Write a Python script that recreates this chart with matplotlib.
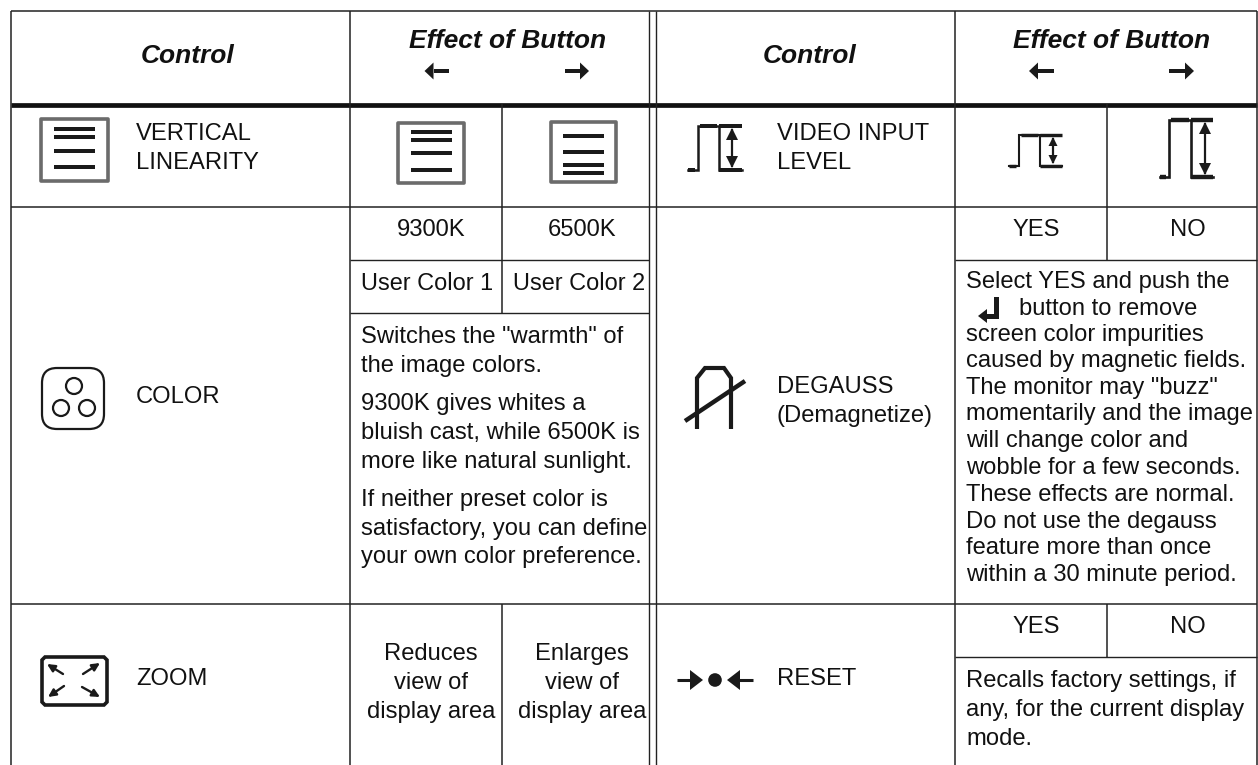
#!/usr/bin/env python3
import matplotlib
matplotlib.use('Agg')
import matplotlib.pyplot as plt
from matplotlib.patches import Polygon, Circle, FancyBboxPatch, Rectangle

plt.rcParams['font.family'] = ['Liberation Sans', 'DejaVu Sans']

INK = '#1a1a1a'
GREY = '#6b6b6b'

header_control = "Control"
header_effect = "Effect of Button"
row_names = [["VERTICAL", "LINEARITY"], ["COLOR"], ["ZOOM"]]
row_names_right = [["VIDEO INPUT", "LEVEL"], ["DEGAUSS", "(Demagnetize)"], ["RESET"]]
color_presets = ["9300K", "6500K", "User Color 1", "User Color 2"]
color_notes = ['Switches the "warmth" of', 'the image colors.',
               '9300K gives whites a', 'bluish cast, while 6500K is', 'more like natural sunlight.',
               'If neither preset color is', 'satisfactory, you can define', 'your own color preference.']
zoom_left = ["Reduces", "view of", "display area"]
zoom_right = ["Enlarges", "view of", "display area"]
yes_no = ["YES", "NO"]
degauss_notes = ['Select YES and push the', 'button to remove', 'screen color impurities',
                 'caused by magnetic fields.', 'The monitor may "buzz"', 'momentarily and the image',
                 'will change color and', 'wobble for a few seconds.', 'These effects are normal.',
                 'Do not use the degauss', 'feature more than once', 'within a 30 minute period.']
reset_notes = ['Recalls factory settings, if', 'any, for the current display', 'mode.']

fig = plt.figure(figsize=(12.58, 7.65), dpi=100)
ax = fig.add_axes([0, 0, 1, 1])
ax.set_xlim(0, 1258)
ax.set_ylim(765, 0)
ax.axis('off')


def hline(x0, x1, y, lw=1.1, c='#222222'):
    ax.plot([x0, x1], [y, y], color=c, lw=lw, solid_capstyle='butt')


def vline(x, y0, y1, lw=1.1, c='#222222'):
    ax.plot([x, x], [y0, y1], color=c, lw=lw, solid_capstyle='butt')


def txt(x, y, s, ha='left', **kw):
    kw.setdefault('fontsize', 17.1)
    ax.text(x, y, s, ha=ha, va='baseline', color='#111111', **kw)


def stack(x, ys, lines, ha='left'):
    for y, s in zip(ys, lines):
        txt(x, y, s, ha=ha)


def header_arrow(tail, tip, y):
    d = 1 if tip > tail else -1
    base = tip - d * 9
    ax.add_patch(Rectangle((min(tail, base), y - 1.7), abs(base - tail), 3.4, color=INK, lw=0))
    ax.add_patch(Polygon([(base, y - 8.5), (tip, y), (base, y + 8.5)], color=INK, lw=0))


def lines_icon(x0, x1, y0, y1, bx0, bx1, bars):
    ax.add_patch(Rectangle((x0, y0), x1 - x0, y1 - y0, fill=False, ec=GREY, lw=2.6, joinstyle='round'))
    for b in bars:
        ax.add_patch(Rectangle((bx0, b - 2.4), bx1 - bx0, 4.8, color=INK, lw=0))


def pulse_icon(xb, xr, xf, xe, top, bot, xa, lw=1.8, bar=4.0, head=6):
    ax.plot([xb, xr, xr, xf, xf, xe], [bot, bot, top, top, bot, bot], color=INK, lw=lw, solid_joinstyle='miter')
    hline(xb, xb + (xr - xb) * 0.7, bot, lw=bar * 0.72, c=INK)
    hline(xr + 2, xf - 2, top, lw=bar * 0.72, c=INK)
    hline(xf, xe, top, lw=bar * 0.72, c=INK)
    hline(xf, xe, bot, lw=bar * 0.72, c=INK)
    vline(xa, top + 3, bot - 3, lw=1.6, c=INK)
    ax.add_patch(Polygon([(xa - head, top + head * 2 + 2), (xa, top + 2), (xa + head, top + head * 2 + 2)], color=INK, lw=0))
    ax.add_patch(Polygon([(xa - head, bot - head * 2 - 2), (xa, bot - 2), (xa + head, bot - head * 2 - 2)], color=INK, lw=0))


# table frame
bottom = 765
row1 = 207
row2 = 604
hline(11, 1257, 11, lw=1.1)
hline(11, 1257, 104.5, lw=3.4, c='#111111')
hline(11, 1257, row1, lw=1.3, c='#444444')
hline(11, 1257, row2, lw=1.3, c='#444444')
vline(11, 11, bottom)
vline(350, 11, bottom)
vline(649, 11, bottom, lw=1.0)
vline(656, 11, bottom, lw=1.0)
vline(955, 11, bottom)
vline(1256.5, 11, bottom)
vline(501.5, 104, row1)
vline(1106.5, 104, row1)

# preset cells on the left, yes/no cells on the right
vline(501.5, row1, 313)
hline(350, 649, 260, lw=1.0)
hline(350, 649, 313, lw=1.0)
vline(1106.5, row1, 260)
hline(955, 1257, 260, lw=1.0)
vline(501.5, row2, bottom)
vline(1106.5, row2, 657)
hline(955, 1257, 657, lw=1.0)

# headers
for cx, ex, arrows in [(188, 507.5, ((449, 424.5), (564.5, 589))), (810, 1112, ((1054, 1029), (1169, 1194)))]:
    txt(cx, 63, header_control, ha='center', fontsize=19, fontweight='bold', fontstyle='italic')
    txt(ex, 48, header_effect, ha='center', fontsize=19, fontweight='bold', fontstyle='italic')
    for tail, tip in arrows:
        header_arrow(tail, tip, 71)

# row names
stack(136, [140, 169], row_names[0])
stack(136, [403], row_names[1])
stack(136, [685], row_names[2])
stack(777, [140, 169], row_names_right[0])
stack(777, [393, 422], row_names_right[1])
stack(777, [685], row_names_right[2])

# vertical linearity icons
lines_icon(41, 108, 119, 181, 54, 95, [129, 137, 151, 167])
lines_icon(398, 464, 123, 183, 411, 452, [132, 140, 153, 170])
lines_icon(551, 616, 122, 182, 563, 604, [136, 152, 165, 173])

# video level icons
pulse_icon(688, 698, 719, 742, 126, 170, 732)
pulse_icon(1009, 1019, 1040, 1062, 135, 166, 1053, lw=1.5, bar=3.4, head=4.5)
pulse_icon(1160, 1169, 1191, 1213, 120, 177, 1205, lw=1.9, bar=4.4, head=6)

# color row
txt(431.5, 236, color_presets[0], ha='center')
txt(582, 236, color_presets[1], ha='center')
txt(361, 290, color_presets[2], fontsize=16.9)
txt(513, 290, color_presets[3], fontsize=16.9)
stack(361, [343, 372, 410, 439, 468, 506, 535, 563], color_notes)

ax.add_patch(FancyBboxPatch((50, 376), 46, 45, boxstyle='round,pad=8,rounding_size=15', fill=False, ec=INK, lw=1.6))
for c in [(74, 386), (61, 408), (87, 408)]:
    ax.add_patch(Circle(c, 8, fill=False, ec=INK, lw=1.6))

# degauss icon
ax.plot([697, 697, 705, 724, 731, 731], [429, 378, 368, 368, 378, 429], color=INK, lw=3, solid_joinstyle='miter', solid_capstyle='butt')
ax.plot([685, 745], [421, 381], color=INK, lw=3.2, solid_capstyle='butt')

# degauss cell
txt(1036, 236, yes_no[0], ha='center')
txt(1187.5, 236, yes_no[1], ha='center')
deg_y = [288, 315, 341, 367, 394, 420, 447, 474, 501, 528, 554, 581]
for i, (y, s) in enumerate(zip(deg_y, degauss_notes)):
    txt(1019 if i == 1 else 966, y, s)
# enter key glyph
ax.add_patch(Rectangle((994, 297), 5, 22, color=INK, lw=0))
ax.add_patch(Rectangle((985, 314), 14, 5, color=INK, lw=0))
ax.add_patch(Polygon([(987, 309), (978, 316), (987, 323)], color=INK, lw=0))

# zoom row
ax.add_patch(Polygon([(45, 657), (104, 657), (107, 660), (107, 702), (104, 705), (45, 705), (42, 702), (42, 660)],
                     fill=False, ec=INK, lw=2.6))
for tail, tip in [((63, 674), (47, 664)), ((83, 674), (100, 663)), ((64, 686), (48, 697)), ((82, 687), (100, 697))]:
    ax.annotate('', xy=tip, xytext=tail, arrowprops=dict(arrowstyle='-|>,head_width=0.22,head_length=0.45', color=INK, lw=1.7,
                                                         shrinkA=0, shrinkB=0))
stack(431, [660, 689, 718], zoom_left, ha='center')
stack(582, [660, 689, 718], zoom_right, ha='center')

# reset icon
hline(677, 692, 680, lw=2.2, c=INK)
ax.add_patch(Polygon([(690, 670), (703, 680), (690, 690)], color=INK, lw=0))
ax.add_patch(Circle((715, 680), 6.8, color=INK, lw=0))
ax.add_patch(Polygon([(740, 670), (727, 680), (740, 690)], color=INK, lw=0))
hline(738, 753, 680, lw=2.2, c=INK)

# reset cell
txt(1036, 633, yes_no[0], ha='center')
txt(1187.5, 633, yes_no[1], ha='center')
stack(966, [687, 716, 745], reset_notes)

fig.savefig('out.png', dpi=100)
